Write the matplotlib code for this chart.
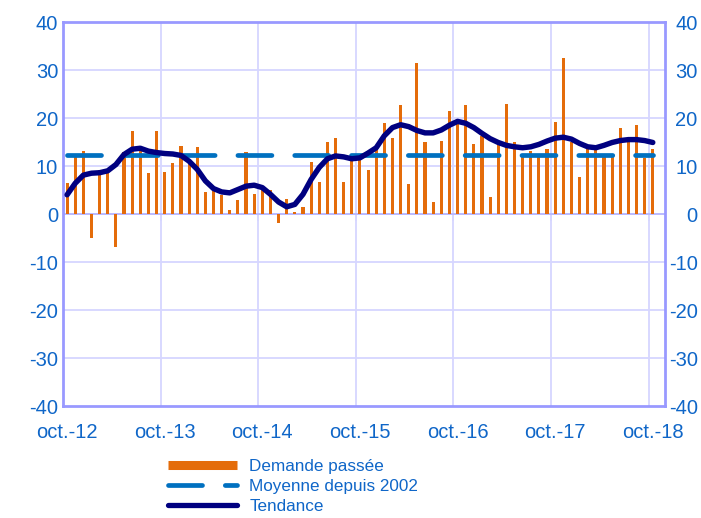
import matplotlib
matplotlib.use("Agg")
import matplotlib.pyplot as plt
from matplotlib.lines import Line2D
import numpy as np

plt.rcParams['font.family'] = ['Liberation Sans', 'DejaVu Sans']

# ---- data (monthly, Oct 2012 .. Oct 2018) ----
tick_labels = ["oct.-12", "oct.-13", "oct.-14", "oct.-15", "oct.-16", "oct.-17", "oct.-18"]

demande_passee = [
    6.5, 12.1, 13.1, -4.9, 9.1, 8.6, -6.9, 13.0, 17.2, 14.2, 8.5, 17.2,
    8.8, 10.6, 14.1, 11.3, 14.0, 4.5, 4.8, 4.0, 0.8, 3.0, 13.0, 4.2,
    5.7, 5.1, -1.9, 3.2, 0.5, 1.5, 10.8, 6.6, 15.1, 15.8, 6.6, 12.5,
    11.4, 9.1, 14.2, 19.0, 15.8, 22.8, 6.3, 31.4, 15.1, 2.4, 15.2, 21.4,
    19.5, 22.8, 14.5, 16.3, 3.5, 14.4, 23.0, 14.9, 12.5, 13.1, 12.1, 13.5,
    19.2, 32.6, 15.0, 7.8, 13.8, 14.3, 12.1, 12.4, 18.0, 14.9, 18.5, 11.7,
    13.6,
]

tendance = [
    4.0, 6.4, 8.1, 8.5, 8.6, 9.0, 10.3, 12.4, 13.5, 13.7, 13.1, 12.8,
    12.6, 12.5, 12.2, 11.0, 9.3, 6.9, 5.3, 4.6, 4.4, 5.1, 5.8, 6.0,
    5.5, 4.1, 2.5, 1.5, 2.0, 4.1, 7.2, 9.7, 11.5, 12.1, 11.9, 11.5,
    11.7, 12.7, 13.8, 16.3, 18.0, 18.6, 18.2, 17.4, 16.9, 16.9, 17.5, 18.5,
    19.3, 18.9, 18.0, 16.8, 15.7, 14.9, 14.3, 14.0, 13.8, 14.0, 14.5, 15.2,
    15.8, 16.0, 15.6, 14.7, 14.0, 13.8, 14.3, 14.9, 15.3, 15.5, 15.5, 15.3,
    14.9,
]

moyenne_value = 12.3
moyenne = [moyenne_value] * len(demande_passee)

# ---- styling ----
C_BAR = '#E46C0A'
C_MEAN = '#0070C0'
C_TREND = '#000080'
C_SPINE = '#9999FF'
C_GRID = '#D6D6FF'
C_TEXT = '#0F66C8'

fig = plt.figure(figsize=(7.01, 5.18), dpi=100)
ax = fig.add_axes([63/701, 1-406/518, (665-63)/701, (406-22)/518])

x = np.arange(len(demande_passee))

ax.set_ylim(-40, 40)
ax.set_xlim(-0.5, len(demande_passee) + 0.5)
yt = np.arange(-40, 41, 10)
for v in yt:
    if -40 < v < 40:
        ax.axhline(v, color=C_GRID, lw=1.3, zorder=0)
for b in np.arange(11.5, len(demande_passee), 12):
    ax.axvline(b, color=C_GRID, lw=1.3, zorder=0)
    ax.plot([b, b], [0, -1.3], color=C_GRID, lw=1.3, zorder=0.5)
ax.axhline(0, color='#B8B8FF', lw=1.3, zorder=0.5)

ax.bar(x, demande_passee, width=0.38, color=C_BAR, zorder=2)

mean_line, = ax.plot(x, moyenne, color=C_MEAN, lw=3.4, zorder=3,
                     solid_capstyle='round', dash_capstyle='round')
mean_line.set_dashes([7.2, 4.83])

ax.plot(x, tendance, color=C_TREND, lw=3.9, zorder=4,
        solid_capstyle='round', solid_joinstyle='round')

for s in ax.spines.values():
    s.set_color(C_SPINE)
    s.set_linewidth(2)

ax.set_yticks(yt)
ax.set_yticklabels([str(v) for v in yt])
ax.set_xticks(np.arange(0, len(demande_passee), 12))
ax.set_xticklabels(tick_labels)
ax.tick_params(axis='both', length=0, colors=C_TEXT, labelsize=14.5)
ax.tick_params(axis='y', pad=3.5)
ax.tick_params(axis='x', pad=12)

ax2 = ax.twinx()
ax2.set_ylim(-40, 40)
ax2.set_yticks(yt)
ax2.set_yticklabels([str(v) for v in yt], ha='right')
ax2.tick_params(axis='y', length=0, colors=C_TEXT, labelsize=14.5, pad=23.5)
for s in ax2.spines.values():
    s.set_visible(False)

handles = [
    Line2D([0], [0], color=C_BAR, lw=6.5, solid_capstyle='butt'),
    Line2D([0], [0], color=C_MEAN, lw=3.4, dashes=[7.2, 4.83], dash_capstyle='round'),
    Line2D([0], [0], color=C_TREND, lw=3.8, solid_capstyle='round'),
]
labels = ["Demande passée", "Moyenne depuis 2002", "Tendance"]
leg = fig.legend(handles, labels, loc='upper left',
                 bbox_to_anchor=(168/701, 1 - 459/518),
                 frameon=False, fontsize=12.3, handlelength=4.05,
                 handletextpad=0.7, labelspacing=0.3, borderpad=0,
                 borderaxespad=0)
for t in leg.get_texts():
    t.set_color(C_TEXT)

fig.savefig("out.png", dpi=100)
